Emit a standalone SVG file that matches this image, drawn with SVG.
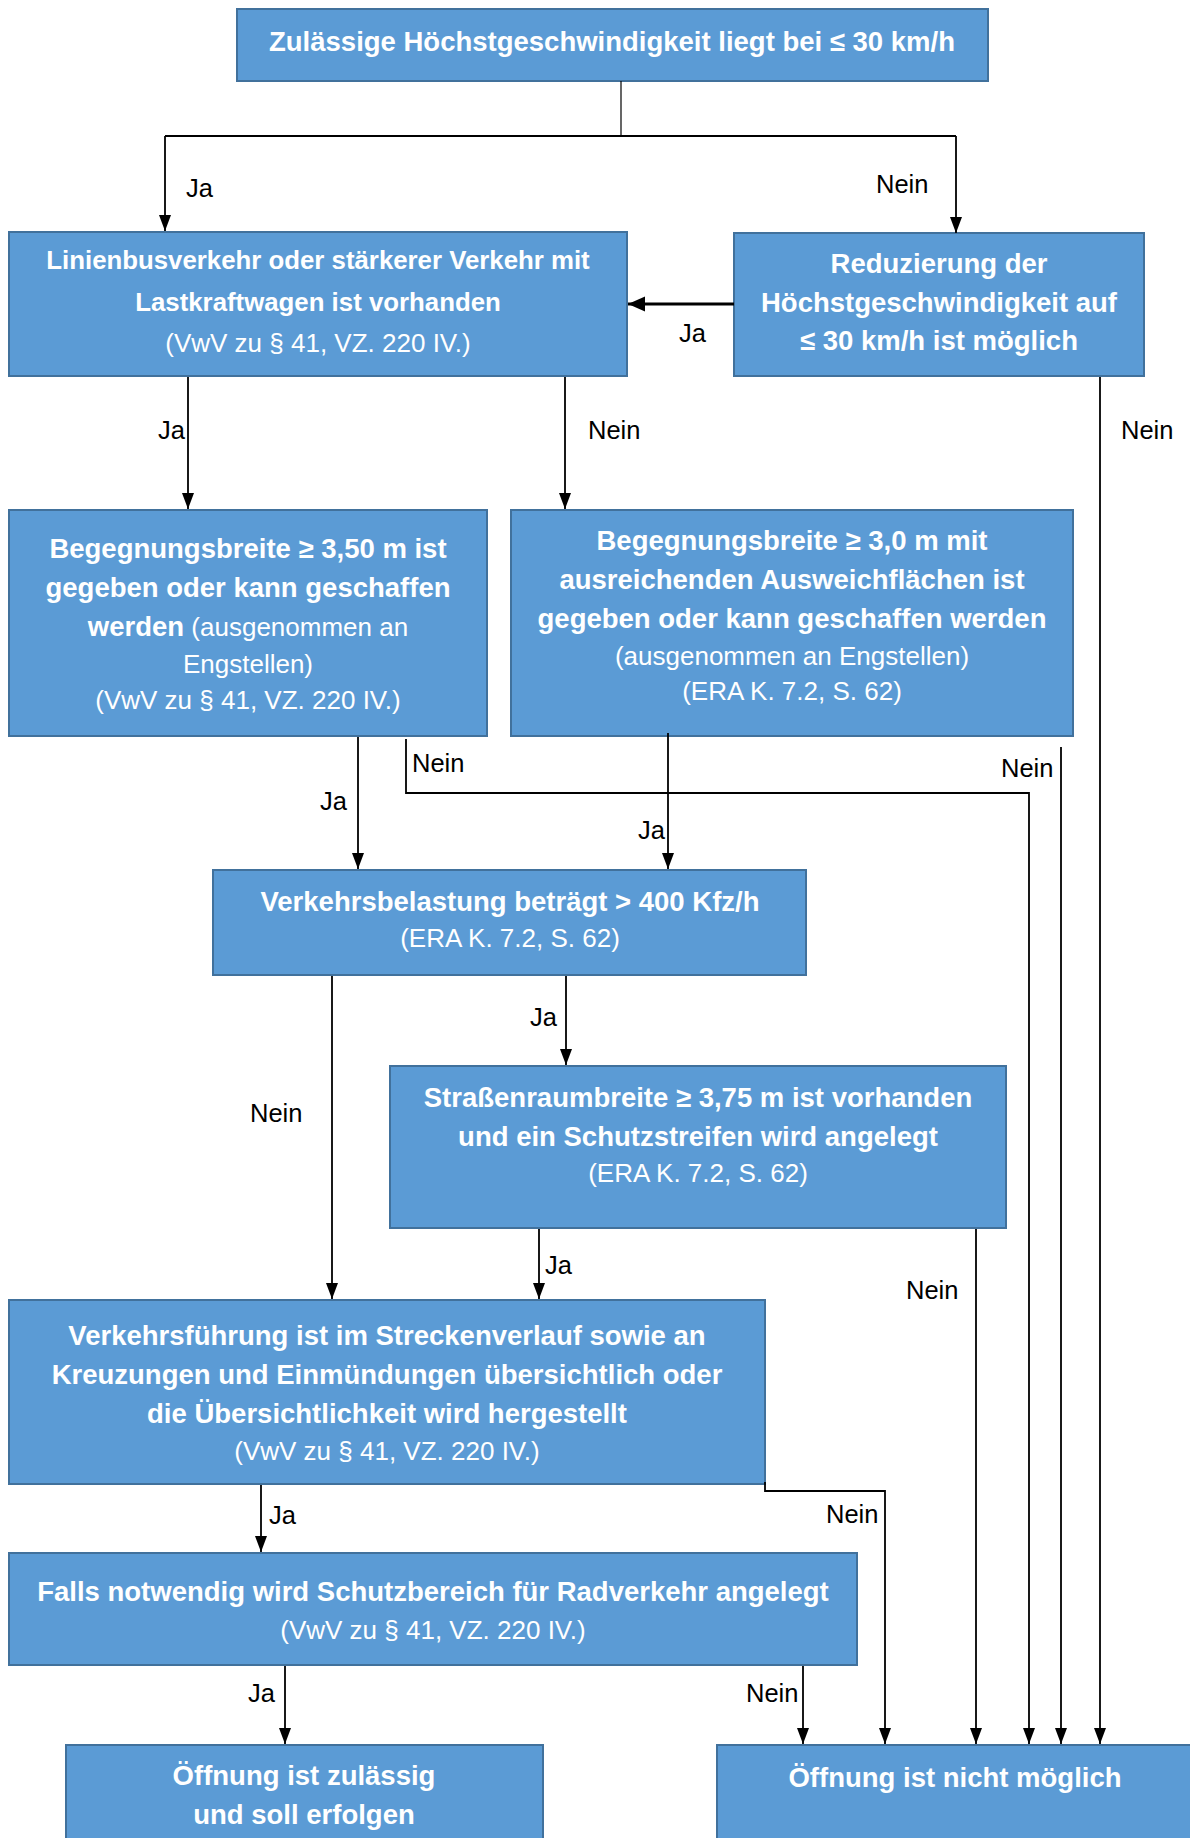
<svg xmlns="http://www.w3.org/2000/svg" width="1190" height="1838" viewBox="0 0 1190 1838">
<style>
.box{fill:#5B9BD5;stroke:#41719C;stroke-width:2}
.t{font-family:"Liberation Sans",Arial,sans-serif;fill:#fff;text-anchor:middle}
.b{font-weight:bold;font-size:27.5px}
.r{font-weight:normal;font-size:26px}
.lbl{font-family:"Liberation Sans",Arial,sans-serif;font-size:25.5px;fill:#000}
.c{fill:none;stroke:#000;stroke-width:1.8}
</style>
<defs>
<marker id="ah" markerUnits="userSpaceOnUse" markerWidth="17" markerHeight="13" refX="16" refY="6.5" orient="auto">
<path d="M0,0.5 L16,6.5 L0,12.5 z" fill="#000"/>
</marker>
<marker id="ah2" markerUnits="userSpaceOnUse" markerWidth="18" markerHeight="16" refX="17" refY="8" orient="auto">
<path d="M0,0.5 L17,8 L0,15.5 z" fill="#000"/>
</marker>
</defs>

<g id="n1">
<rect class="box" x="237" y="9" width="751" height="72"/>
<text class="t b" x="612" y="51">Zulässige Höchstgeschwindigkeit liegt bei ≤ 30 km/h</text>
</g>
<g id="n2">
<rect class="box" x="9" y="232" width="618" height="144"/>
<text class="t" style="font-weight:bold;font-size:25.8px" x="318" y="269">Linienbusverkehr oder stärkerer Verkehr mit</text>
<text class="t" style="font-weight:bold;font-size:25.8px" x="318" y="311">Lastkraftwagen ist vorhanden</text>
<text class="t r" x="318" y="352">(VwV zu § 41, VZ. 220 IV.)</text>
</g>
<g id="n3">
<rect class="box" x="734" y="233" width="410" height="143"/>
<text class="t b" x="939" y="273">Reduzierung der</text>
<text class="t b" x="939" y="312">Höchstgeschwindigkeit auf</text>
<text class="t b" x="939" y="350">≤ 30 km/h ist möglich</text>
</g>
<g id="n4">
<rect class="box" x="9" y="510" width="478" height="226"/>
<text class="t b" x="248" y="558">Begegnungsbreite ≥ 3,50 m ist</text>
<text class="t b" x="248" y="597">gegeben oder kann geschaffen</text>
<text class="t" x="248" y="636"><tspan style="font-weight:bold;font-size:27.5px">werden</tspan><tspan style="font-size:26px"> (ausgenommen an</tspan></text>
<text class="t r" x="248" y="673">Engstellen)</text>
<text class="t r" x="248" y="709">(VwV zu § 41, VZ. 220 IV.)</text>
</g>
<g id="n5">
<rect class="box" x="511" y="510" width="562" height="226"/>
<text class="t b" x="792" y="550">Begegnungsbreite ≥ 3,0 m mit</text>
<text class="t b" x="792" y="589">ausreichenden Ausweichflächen ist</text>
<text class="t b" x="792" y="628">gegeben oder kann geschaffen werden</text>
<text class="t r" x="792" y="665">(ausgenommen an Engstellen)</text>
<text class="t r" x="792" y="700">(ERA K. 7.2, S. 62)</text>
</g>
<g id="n6">
<rect class="box" x="213" y="870" width="593" height="105"/>
<text class="t b" x="510" y="911">Verkehrsbelastung beträgt &gt; 400 Kfz/h</text>
<text class="t r" x="510" y="947">(ERA K. 7.2, S. 62)</text>
</g>
<g id="n7">
<rect class="box" x="390" y="1066" width="616" height="162"/>
<text class="t b" x="698" y="1107">Straßenraumbreite ≥ 3,75 m ist vorhanden</text>
<text class="t b" x="698" y="1146">und ein Schutzstreifen wird angelegt</text>
<text class="t r" x="698" y="1182">(ERA K. 7.2, S. 62)</text>
</g>
<g id="n8">
<rect class="box" x="9" y="1300" width="756" height="184"/>
<text class="t b" x="387" y="1345">Verkehrsführung ist im Streckenverlauf sowie an</text>
<text class="t b" x="387" y="1384">Kreuzungen und Einmündungen übersichtlich oder</text>
<text class="t b" x="387" y="1423">die Übersichtlichkeit wird hergestellt</text>
<text class="t r" x="387" y="1460">(VwV zu § 41, VZ. 220 IV.)</text>
</g>
<g id="n9">
<rect class="box" x="9" y="1553" width="848" height="112"/>
<text class="t b" x="433" y="1601">Falls notwendig wird Schutzbereich für Radverkehr angelegt</text>
<text class="t r" x="433" y="1639">(VwV zu § 41, VZ. 220 IV.)</text>
</g>
<g id="n10">
<rect class="box" x="66" y="1745" width="477" height="110"/>
<text class="t b" x="304" y="1785">Öffnung ist zulässig</text>
<text class="t b" x="304" y="1824">und soll erfolgen</text>
</g>
<g id="n11">
<rect class="box" x="717" y="1745" width="476" height="110"/>
<text class="t b" x="955" y="1787">Öffnung ist nicht möglich</text>
</g>

<g id="connectors">
<path class="c" style="stroke-width:1.2" d="M621,81 V136"/>
<path class="c" d="M165,136 H956"/>
<path class="c" d="M165,136 V231" marker-end="url(#ah)"/>
<path class="c" d="M956,136 V233" marker-end="url(#ah)"/>
<path class="c" style="stroke-width:3" d="M734,304 H628" marker-end="url(#ah2)"/>
<path class="c" d="M188,377 V509" marker-end="url(#ah)"/>
<path class="c" d="M565,377 V509" marker-end="url(#ah)"/>
<path class="c" d="M1100,377 V1744" marker-end="url(#ah)"/>
<path class="c" d="M358,737 V869" marker-end="url(#ah)"/>
<path class="c" d="M406,739 V793 H1029 V1744" marker-end="url(#ah)"/>
<path class="c" d="M668,733 V869" marker-end="url(#ah)"/>
<path class="c" d="M1061,747 V1744" marker-end="url(#ah)"/>
<path class="c" d="M332,976 V1299" marker-end="url(#ah)"/>
<path class="c" d="M566,976 V1065" marker-end="url(#ah)"/>
<path class="c" d="M539,1229 V1299" marker-end="url(#ah)"/>
<path class="c" d="M976,1229 V1744" marker-end="url(#ah)"/>
<path class="c" d="M261,1485 V1552" marker-end="url(#ah)"/>
<path class="c" d="M765,1482 V1491 H885 V1744" marker-end="url(#ah)"/>
<path class="c" d="M285,1666 V1744" marker-end="url(#ah)"/>
<path class="c" d="M803,1666 V1744" marker-end="url(#ah)"/>

<text class="lbl" x="186" y="197">Ja</text>
<text class="lbl" x="876" y="193">Nein</text>
<text class="lbl" x="679" y="342">Ja</text>
<text class="lbl" x="158" y="439">Ja</text>
<text class="lbl" x="588" y="439">Nein</text>
<text class="lbl" x="1121" y="439">Nein</text>
<text class="lbl" x="320" y="810">Ja</text>
<text class="lbl" x="412" y="772">Nein</text>
<text class="lbl" x="1001" y="777">Nein</text>
<text class="lbl" x="638" y="839">Ja</text>
<text class="lbl" x="530" y="1026">Ja</text>
<text class="lbl" x="250" y="1122">Nein</text>
<text class="lbl" x="545" y="1274">Ja</text>
<text class="lbl" x="906" y="1299">Nein</text>
<text class="lbl" x="269" y="1524">Ja</text>
<text class="lbl" x="826" y="1523">Nein</text>
<text class="lbl" x="248" y="1702">Ja</text>
<text class="lbl" x="746" y="1702">Nein</text>
</g>
</svg>
